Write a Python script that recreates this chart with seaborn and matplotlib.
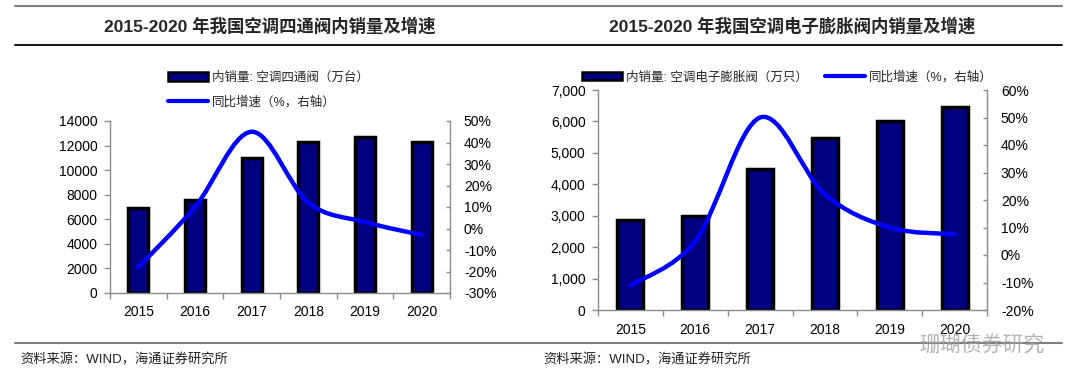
import numpy as np
import seaborn as sns
import matplotlib.pyplot as plt
from matplotlib.path import Path
from matplotlib.patches import Patch, PathPatch
from matplotlib.lines import Line2D
from matplotlib.ticker import FuncFormatter, MultipleLocator

# data
years = ['2015', '2016', '2017', '2018', '2019', '2020']
sales_4way = [6900, 7600, 11000, 12300, 12700, 12300]      # 万台
growth_4way = [-18, 10, 45, 12, 3, -3]                      # %
sales_eev = [2850, 3000, 4500, 5480, 6020, 6470]            # 万只
growth_eev = [-11, 5, 50, 22, 10, 7.5]                      # %

title_left = '2015-2020 年我国空调四通阀内销量及增速'
title_right = '2015-2020 年我国空调电子膨胀阀内销量及增速'
label_bar_left = '内销量: 空调四通阀（万台）'
label_bar_right = '内销量: 空调电子膨胀阀（万只）'
label_line = '同比增速（%，右轴）'
source = '资料来源：WIND，海通证券研究所'

NAVY = '#000080'
BLUE = '#0000FF'
GREY = '#8c8c8c'

sns.set_theme(style='white')
plt.rcParams['font.family'] = ['Liberation Sans', 'Noto Sans CJK SC', 'DejaVu Sans']

W, H = 1080, 376
fig = plt.figure(figsize=(W / 100, H / 100), dpi=100)


def box(x0, y0, x1, y1):
    # pixel box (top-left origin) -> figure fraction
    return [x0 / W, 1 - y1 / H, (x1 - x0) / W, (y1 - y0) / H]


def smooth_path(xs, ys):
    # Catmull-Rom through the data points, drawn as cubic bezier (like Excel smoothed line)
    p = np.column_stack([xs, ys]).astype(float)
    ext = np.vstack([p[0], p, p[-1]])
    verts = [p[0]]
    codes = [Path.MOVETO]
    for i in range(len(p) - 1):
        p0, p1, p2, p3 = ext[i], ext[i + 1], ext[i + 2], ext[i + 3]
        verts += [p1 + (p2 - p0) / 6, p2 - (p3 - p1) / 6, p2]
        codes += [Path.CURVE4] * 3
    return Path(verts, codes)


def panel(rect, sales, growth, bar_w, ylim, ystep, rlim, rstep, yfmt):
    ax = fig.add_axes(rect)
    sns.barplot(x=years, y=sales, ax=ax, color=NAVY, edgecolor='black',
                linewidth=2.5, width=bar_w, saturation=1)
    ax.set_xlim(-0.5, 5.5)
    ax.set_ylim(*ylim)
    ax.yaxis.set_major_locator(MultipleLocator(ystep))
    ax.yaxis.set_major_formatter(FuncFormatter(yfmt))
    ax.set_xlabel('')
    ax.set_ylabel('')
    for s in ['top', 'right']:
        ax.spines[s].set_visible(False)
    for s in ['left', 'bottom']:
        ax.spines[s].set_color(GREY)
        ax.spines[s].set_linewidth(1)
    ax.tick_params(axis='y', left=True, length=4, width=1, color=GREY,
                   labelsize=10, pad=5, labelcolor='black')
    ax.tick_params(axis='x', which='major', length=0, labelsize=10, pad=9,
                   labelcolor='black')
    ax.set_xticks(np.arange(-0.5, 6, 1), minor=True)
    ax.tick_params(axis='x', which='minor', bottom=True, length=4, width=1,
                   color=GREY)

    ax2 = ax.twinx()
    ax2.set_ylim(*rlim)
    ax2.yaxis.set_major_locator(MultipleLocator(rstep))
    ax2.yaxis.set_major_formatter(FuncFormatter(lambda v, _: f'{v:.0f}%'))
    for s in ['top', 'left', 'bottom']:
        ax2.spines[s].set_visible(False)
    ax2.spines['right'].set_color(GREY)
    ax2.spines['right'].set_linewidth(1)
    ax2.tick_params(axis='y', right=True, direction='in', length=3, width=1,
                    color=GREY, labelsize=10, pad=10, labelcolor='black')
    ax2.grid(False)
    ax2.add_patch(PathPatch(smooth_path(np.arange(len(growth)), growth),
                            facecolor='none', edgecolor=BLUE, linewidth=3.2,
                            capstyle='round'))
    return ax, ax2


panel(box(110, 121, 450, 293), sales_4way, growth_4way, 0.35,
      (0, 14000), 2000, (-30, 50), 10, lambda v, _: f'{v:.0f}')
panel(box(598, 90, 987, 310), sales_eev, growth_eev, 0.40,
      (0, 7000), 1000, (-20, 60), 10, lambda v, _: f'{v:,.0f}')

bar_handle = Patch(facecolor=NAVY, edgecolor='black', linewidth=1.8)
line_handle = Line2D([], [], color=BLUE, linewidth=3)

fig.legend([bar_handle, line_handle], [label_bar_left, label_line],
           loc='center left', bbox_to_anchor=(168 / W, 1 - 90 / H),
           frameon=False, fontsize=9, handlelength=3.2, handletextpad=0.3,
           labelspacing=1.0, borderpad=0, borderaxespad=0)
fig.legend([bar_handle, line_handle], [label_bar_right, label_line],
           loc='center left', bbox_to_anchor=(582 / W, 1 - 77 / H), ncol=2,
           frameon=False, fontsize=9, handlelength=3.2, handletextpad=0.3,
           columnspacing=1.4, borderpad=0, borderaxespad=0)

# titles and rules
fig.text(270 / W, 1 - 26 / H, title_left, ha='center', va='center',
         fontsize=12.5, fontweight='bold')
fig.text(792 / W, 1 - 26 / H, title_right, ha='center', va='center',
         fontsize=12.5, fontweight='bold')
fig.add_artist(Line2D([15 / W, 1062 / W], [1 - 6 / H] * 2, color='#7f7f7f', lw=1.5))
fig.add_artist(Line2D([15 / W, 1062 / W], [1 - 45 / H] * 2, color='black', lw=1.3))
fig.add_artist(Line2D([15 / W, 1062 / W], [1 - 343 / H] * 2, color='#7f7f7f', lw=1.5))

fig.text(20 / W, 1 - 360 / H, source, ha='left', va='center', fontsize=9.5,
         color='#222222')
fig.text(543 / W, 1 - 360 / H, source, ha='left', va='center', fontsize=9.5,
         color='#222222')

# watermark, kept just below the year labels
fig.text(1045 / W, 1 - 346 / H, '珊瑚债券研究', ha='right', va='center',
         fontsize=15, color='#a0a0a0', alpha=0.8)

fig.savefig('out.png', dpi=100)
